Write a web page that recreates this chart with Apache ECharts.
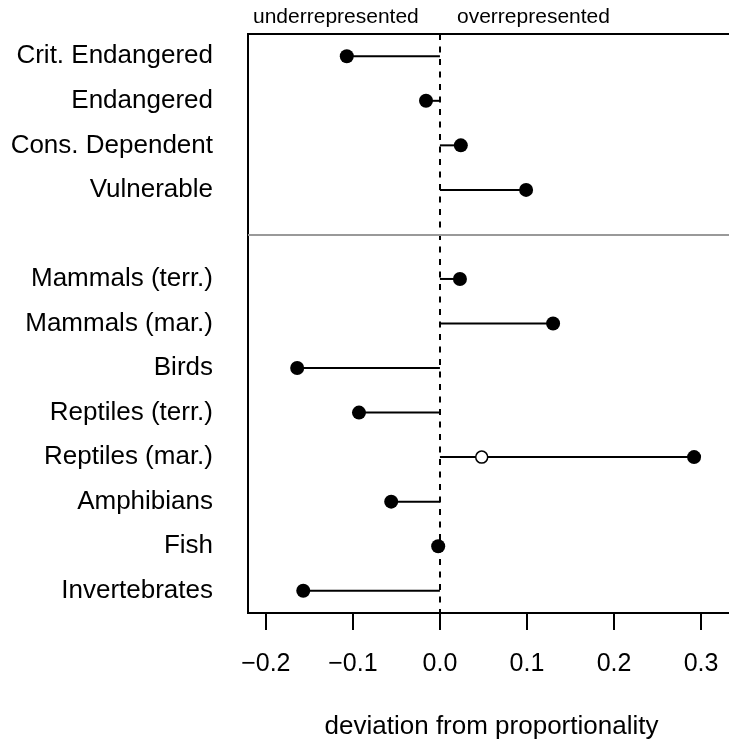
<!DOCTYPE html>
<html>
<head>
<meta charset="utf-8">
<script src="https://cdn.jsdelivr.net/npm/echarts@6/dist/echarts.min.js"></script>
<style>
  html, body { margin: 0; padding: 0; background: #fff; }
  #chart { width: 729px; height: 743px; }
</style>
</head>
<body>
<div id="chart"></div>
<script>
// rows from top to bottom, '' is the gap between the two groups
const categories = [
  'Crit. Endangered', 'Endangered', 'Cons. Dependent', 'Vulnerable', '',
  'Mammals (terr.)', 'Mammals (mar.)', 'Birds', 'Reptiles (terr.)',
  'Reptiles (mar.)', 'Amphibians', 'Fish', 'Invertebrates'
];
const deviation = [-0.107, -0.016, 0.024, 0.099, null,
  0.023, 0.130, -0.164, -0.093, 0.292, -0.056, -0.002, -0.157];
// second (open) point, only for marine reptiles
const openPoints = [['Reptiles (mar.)', 0.048]];
const xTicks = [-0.2, -0.1, 0.0, 0.1, 0.2, 0.3];

const chart = echarts.init(document.getElementById('chart'));
const font = 'Liberation Sans, Arial, sans-serif';
const sepIndex = categories.indexOf('');

const option = {
  animation: false,
  grid: {
    left: 248, top: 34, width: 487, height: 579,
    outerBoundsMode: 'none', containLabel: false,
    show: true, borderColor: '#000', borderWidth: 2, backgroundColor: 'transparent'
  },
  xAxis: {
    type: 'value',
    min: -0.2205, max: 0.339,
    axisLine: { show: false },
    splitLine: { show: false },
    axisTick: {
      show: true, customValues: xTicks, length: 17, inside: false,
      lineStyle: { color: '#000', width: 2 }
    },
    axisLabel: {
      customValues: xTicks, margin: 39, color: '#000',
      fontFamily: font, fontSize: 25,
      formatter: v => v.toFixed(1).replace('-', '\u2212')
    },
    name: 'deviation from proportionality',
    nameLocation: 'middle', nameGap: 101,
    nameTextStyle: { color: '#000', fontFamily: font, fontSize: 26 }
  },
  yAxis: {
    type: 'category',
    data: categories,
    inverse: true,
    axisLine: { show: false },
    axisTick: { show: false },
    splitLine: { show: false },
    axisLabel: { margin: 35, color: '#000', fontFamily: font, fontSize: 26 }
  },
  graphic: [
    { type: 'text', left: 253, top: 7,
      style: { text: 'underrepresented', font: '21px ' + font, fill: '#000' } },
    { type: 'text', left: 457, top: 7,
      style: { text: 'overrepresented', font: '21px ' + font, fill: '#000' } }
  ],
  series: [
    {
      // stems from 0 to each value
      type: 'bar',
      data: deviation,
      barWidth: 2,
      itemStyle: { color: '#000' },
      z: 2
    },
    {
      type: 'scatter',
      data: deviation.map((v, i) => v === null ? null : [v, categories[i]]),
      symbol: 'circle', symbolSize: 14,
      itemStyle: { color: '#000', opacity: 1 },
      z: 4,
      markLine: {
        silent: true, symbol: 'none', animation: false,
        label: { show: false },
        data: [
          { xAxis: 0, lineStyle: { color: '#000', width: 2, type: [6, 6.5] } },
          { yAxis: sepIndex, lineStyle: { color: '#999', width: 2, type: 'solid' } }
        ]
      }
    },
    {
      type: 'scatter',
      data: openPoints.map(p => [p[1], p[0]]),
      symbol: 'circle', symbolSize: 12,
      itemStyle: { color: '#fff', borderColor: '#000', borderWidth: 1.5, opacity: 1 },
      z: 5
    }
  ]
};

chart.setOption(option);
</script>
</body>
</html>
